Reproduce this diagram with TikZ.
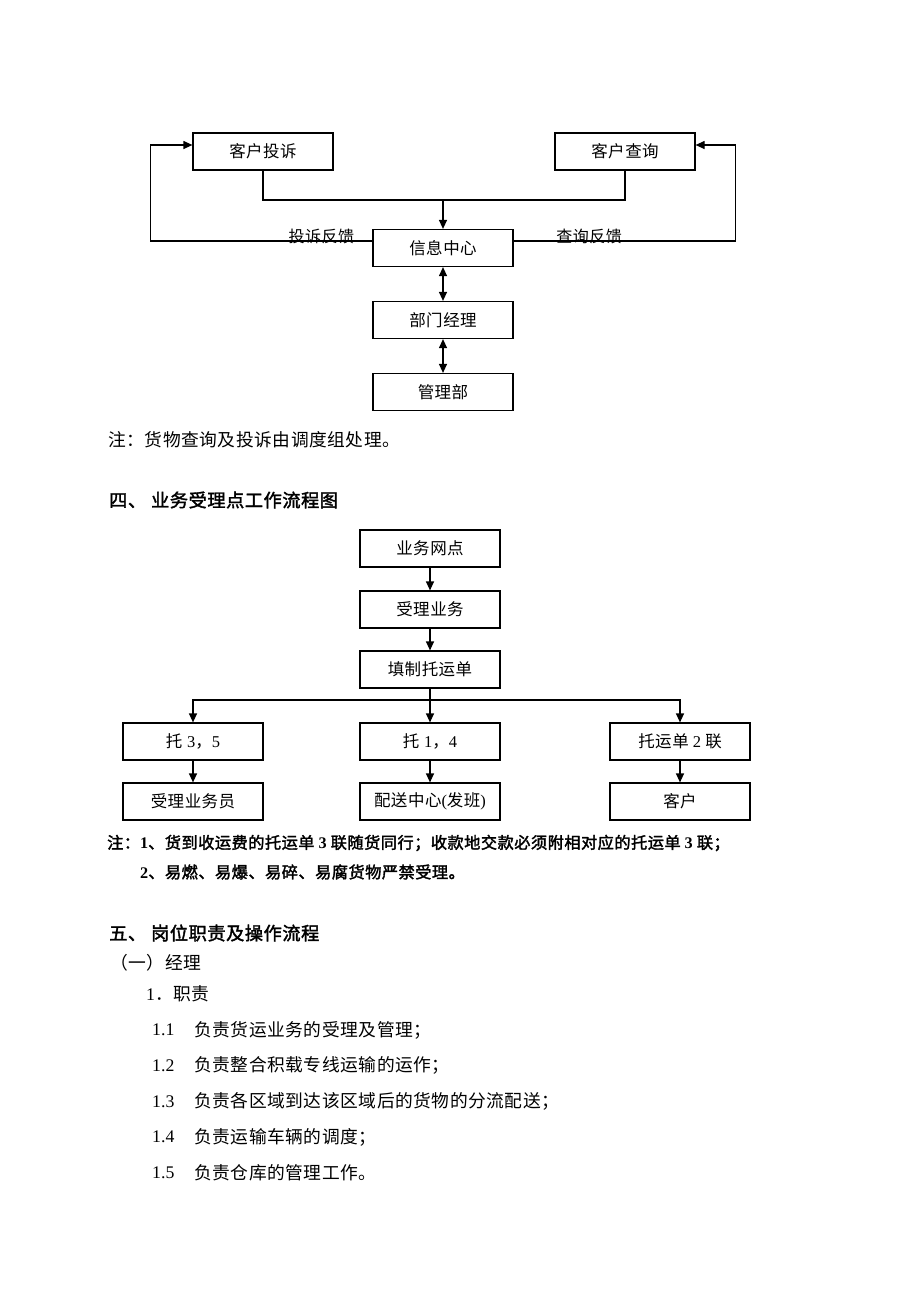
\documentclass[tikz,border=0pt]{standalone}
\usepackage{fontspec}
\setmainfont{Noto Sans CJK SC}[AutoFakeBold=2,LetterSpace=3]
\newfontfamily\enfont{Liberation Serif}
\usetikzlibrary{arrows.meta,positioning,calc}
\tikzset{
  box/.style={draw, line width=1.2pt, minimum width=140pt, minimum height=37pt, inner sep=0pt, font=\fontsize{16.5}{18}\selectfont},
  link/.style={line width=1.2pt},
  flow/.style={link, -{Triangle[length=9pt,width=8pt]}},
  twoway/.style={link, {Triangle[length=9pt,width=8pt]}-{Triangle[length=9pt,width=8pt]}},
  lab/.style={inner sep=0pt, font=\fontsize{16}{18}\selectfont},
  body/.style={anchor=west, inner sep=0pt, font=\fontsize{17.75}{20}\selectfont},
  heading/.style={anchor=west, inner sep=0pt, font=\bfseries\fontsize{18.2}{21}\selectfont},
  remark/.style={anchor=west, inner sep=0pt, font=\bfseries\fontsize{16.2}{19}\selectfont},
}
\begin{document}
\begin{tikzpicture}[x=1pt,y=-1pt]
    \useasboundingbox (0,0) rectangle (920,1302);

    % Complaints and queries
    \node[box] (tousu) at (263,151.5) {客户投诉};
    \node[box] (chaxun) at (625,151.5) {客户查询};
    \node[box] (xinxi) at (443,248) {信息中心};
    \node[box] (jingli) at (443,320) {部门经理};
    \node[box] (guanli) at (443,392) {管理部};
    \coordinate (hub) at (443,200);
    \draw[link] (tousu.south) |- (hub) -| (chaxun.south);
    \draw[flow] (hub) -- (xinxi.north);
    \draw[flow] ([yshift=7pt]xinxi.west) -- node[lab, pos=0.23, yshift=4.5pt] (fbtousu) {投诉反馈} ++(-222,0) |- ([yshift=6.5pt]tousu.west);
    \draw[flow] ([yshift=7pt]xinxi.east) -- node[lab, pos=0.34, yshift=4.5pt] (fbchaxun) {查询反馈} ++(222,0) |- ([yshift=6.5pt]chaxun.east);
    \draw[twoway] (xinxi) -- (jingli);
    \draw[twoway] (jingli) -- (guanli);
    \node[body] (note1) at (108,440) {注：货物查询及投诉由调度组处理。};

    % Section four
    \node[heading] (sec4) at (109,500) {四、\hspace{5pt}业务受理点工作流程图};
    \node[box] (wangdian) at (430,548.5) {业务网点};
    \node[box] (shouli) at (430,609.5) {受理业务};
    \node[box] (tianzhi) at (430,669.5) {填制托运单};
    \node[box] (tuoA) at (193,741.5) {托\hspace{0.3em}{\enfont 3}，{\enfont 5}};
    \node[box] (tuoB) at (430,741.5) {托\hspace{0.3em}{\enfont 1}，{\enfont 4}};
    \node[box] (tuoC) at (680,741.5) {托运单\hspace{0.25em}{\enfont 2}\hspace{0.25em}联};
    \node[box] (yewuyuan) at (193,801.5) {受理业务员};
    \node[box] (peisong) at (430,801.5) {配送中心{\enfont (}发班{\enfont )}};
    \node[box] (kehu) at (680,801.5) {客户};
    \coordinate (fork) at (430,700);
    \draw[flow] (wangdian) -- (shouli);
    \draw[flow] (shouli) -- (tianzhi);
    \draw[flow] (tianzhi) -- (tuoB);
    \draw[flow] (fork) -| (tuoA.north);
    \draw[flow] (fork) -| (tuoC.north);
    \draw[flow] (tuoA) -- (yewuyuan);
    \draw[flow] (tuoB) -- (peisong);
    \draw[flow] (tuoC) -- (kehu);
    \node[remark] (note2) at (107,843) {注：{\enfont 1}、货到收运费的托运单\hspace{0.25em}{\enfont 3}\hspace{0.25em}联随货同行；收款地交款必须附相对应的托运单\hspace{0.25em}{\enfont 3}\hspace{0.25em}联；};
    \node[remark] (note3) at (140,872) {{\enfont 2}、易燃、易爆、易碎、易腐货物严禁受理。};

    % Section five
    \node[heading] (sec5) at (109,933) {五、\hspace{5pt}岗位职责及操作流程};
    \node[body] (sub1) at (110,963) {（一）经理};
    \node[body] (item1) at (146,994) {{\enfont 1}．职责};
    \foreach \n/\t [count=\k] in {1.1/负责货运业务的受理及管理；, 1.2/负责整合积载专线运输的运作；, 1.3/负责各区域到达该区域后的货物的分流配送；, 1.4/负责运输车辆的调度；, 1.5/负责仓库的管理工作。}
    {
        \node[body] (num\k) at (152,{1030+35.75*(\k-1)}) {\enfont\n};
        \node[body] (duty\k) at (194,{1030+35.75*(\k-1)}) {\t};
    }
\end{tikzpicture}
\end{document}
